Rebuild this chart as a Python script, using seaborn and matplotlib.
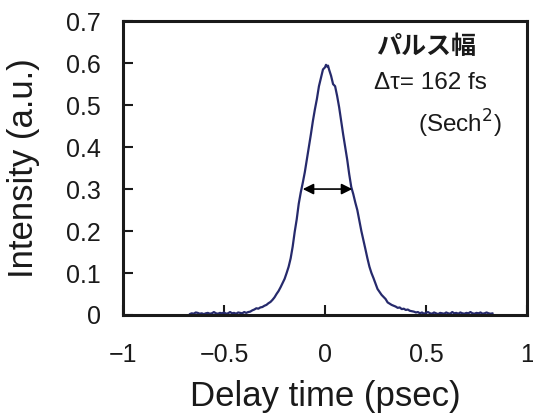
import matplotlib
matplotlib.use("Agg")
import matplotlib.pyplot as plt
import seaborn as sns
import pandas as pd

# Autocorrelation trace: delay (psec) and normalized intensity
delay_ps = [
    -0.67, -0.66, -0.65, -0.64, -0.63, -0.62, -0.61, -0.60, -0.59, -0.58,
    -0.57, -0.56, -0.55, -0.54, -0.53, -0.52, -0.51, -0.50, -0.49, -0.48,
    -0.47, -0.46, -0.45, -0.44, -0.43, -0.42, -0.41, -0.40, -0.39, -0.38,
    -0.37, -0.36, -0.35, -0.34, -0.33, -0.32, -0.31, -0.30, -0.29, -0.28,
    -0.27, -0.26, -0.25, -0.24, -0.23, -0.22, -0.21, -0.20, -0.19, -0.18,
    -0.17, -0.16, -0.15, -0.14, -0.13, -0.12, -0.11, -0.10, -0.09, -0.08,
    -0.07, -0.06, -0.05, -0.04, -0.03, -0.02, -0.01, 0.00, 0.005, 0.01,
    0.015, 0.02, 0.03, 0.04, 0.05, 0.06, 0.07, 0.08, 0.09, 0.10,
    0.11, 0.12, 0.13, 0.14, 0.15, 0.16, 0.17, 0.18, 0.19, 0.20,
    0.21, 0.22, 0.23, 0.24, 0.25, 0.26, 0.27, 0.28, 0.29, 0.30,
    0.31, 0.32, 0.33, 0.34, 0.35, 0.36, 0.37, 0.38, 0.39, 0.40,
    0.41, 0.42, 0.43, 0.44, 0.45, 0.46, 0.47, 0.48, 0.49, 0.50,
    0.51, 0.52, 0.53, 0.54, 0.55, 0.56, 0.57, 0.58, 0.59, 0.60,
    0.61, 0.62, 0.63, 0.64, 0.65, 0.66, 0.67, 0.68, 0.69, 0.70,
    0.71, 0.72, 0.73, 0.74, 0.75, 0.76, 0.77, 0.78, 0.79, 0.80,
    0.81, 0.82, 0.83,
]
intensity = [
    0.002, 0.004, 0.003, 0.006, 0.005, 0.003, 0.004, 0.002, 0.004, 0.005,
    0.003, 0.004, 0.007, 0.004, 0.003, 0.005, 0.004, 0.006, 0.003, 0.004,
    0.007, 0.004, 0.005, 0.003, 0.006, 0.005, 0.004, 0.007, 0.005, 0.007,
    0.008, 0.011, 0.013, 0.016, 0.015, 0.018, 0.019, 0.022, 0.024, 0.028,
    0.031, 0.036, 0.042, 0.050, 0.057, 0.066, 0.076, 0.086, 0.100, 0.115,
    0.135, 0.163, 0.198, 0.228, 0.265, 0.292, 0.315, 0.340, 0.370, 0.400,
    0.430, 0.462, 0.490, 0.515, 0.545, 0.565, 0.585, 0.590, 0.596, 0.592,
    0.594, 0.585, 0.570, 0.550, 0.545, 0.522, 0.495, 0.462, 0.430, 0.400,
    0.370, 0.335, 0.305, 0.288, 0.268, 0.250, 0.225, 0.200, 0.179, 0.157,
    0.135, 0.115, 0.100, 0.088, 0.075, 0.062, 0.055, 0.048, 0.043, 0.038,
    0.030, 0.027, 0.024, 0.022, 0.020, 0.017, 0.018, 0.014, 0.015, 0.012,
    0.013, 0.010, 0.009, 0.008, 0.006, 0.007, 0.004, 0.006, 0.003, 0.005,
    0.007, 0.004, 0.003, 0.006, 0.004, 0.002, 0.005, 0.004, 0.003, 0.006,
    0.004, 0.003, 0.007, 0.004, 0.005, 0.003, 0.006, 0.004, 0.003, 0.005,
    0.004, 0.007, 0.004, 0.003, 0.005, 0.004, 0.006, 0.003, 0.004, 0.006,
    0.004, 0.003, 0.004,
]

x_ticks = [-1, -0.5, 0, 0.5, 1]
x_tick_labels = ["\u22121", "\u22120.5", "0", "0.5", "1"]
y_ticks = [0, 0.1, 0.2, 0.3, 0.4, 0.5, 0.6, 0.7]
y_tick_labels = ["0", "0.1", "0.2", "0.3", "0.4", "0.5", "0.6", "0.7"]

# FWHM marker of the trace
fwhm_level = 0.3
fwhm_left = -0.11
fwhm_right = 0.135

sns.set_style("ticks")
plt.rcParams["font.family"] = ["Liberation Sans", "Noto Sans CJK JP", "DejaVu Sans"]

df = pd.DataFrame({"delay": delay_ps, "intensity": intensity})

fig = plt.figure(figsize=(5.33, 4.15), dpi=100)
ax = fig.add_axes([0.2308, 0.241, 0.7579, 0.708])

sns.lineplot(data=df, x="delay", y="intensity", ax=ax, sort=False,
             color="#262a6c", linewidth=1.6)

ax.set_xlim(-1, 1)
ax.set_ylim(0, 0.7)
ax.set_xticks(x_ticks)
ax.set_xticklabels(x_tick_labels)
ax.set_yticks(y_ticks)
ax.set_yticklabels(y_tick_labels)

for side in ["left", "right", "top", "bottom"]:
    ax.spines[side].set_visible(True)
    ax.spines[side].set_linewidth(2.2)
    ax.spines[side].set_color("#1a1a1a")

ax.tick_params(axis="both", direction="in", length=7, width=1.5,
               colors="#1a1a1a", labelsize=18)
ax.tick_params(axis="x", pad=20)
ax.tick_params(axis="y", pad=16)

ax.set_xlabel("Delay time (psec)", fontsize=25, color="#1a1a1a")
ax.set_ylabel("Intensity (a.u.)", fontsize=25, color="#1a1a1a")
ax.xaxis.set_label_coords(0.5, -0.222)
ax.yaxis.set_label_coords(-0.205, 0.5)

ax.annotate("", xy=(fwhm_left, fwhm_level), xytext=(fwhm_right, fwhm_level),
            arrowprops=dict(arrowstyle="<|-|>", color="black", lw=1.2,
                            mutation_scale=16, shrinkA=0, shrinkB=0))

ax.text(0.626, 0.912, "パルス幅", fontsize=18, fontweight="bold",
        family=["Noto Sans CJK JP"], ha="left", va="center",
        color="#1a1a1a", transform=ax.transAxes)
ax.text(0.622, 0.789, "Δτ= 162 fs", fontsize=17.5, ha="left", va="center",
        color="#1a1a1a", transform=ax.transAxes)
ax.text(0.938, 0.650, "(Sech$^2$)", fontsize=17.5, ha="right", va="center",
        color="#1a1a1a", transform=ax.transAxes)

fig.savefig("out.png", dpi=100)
